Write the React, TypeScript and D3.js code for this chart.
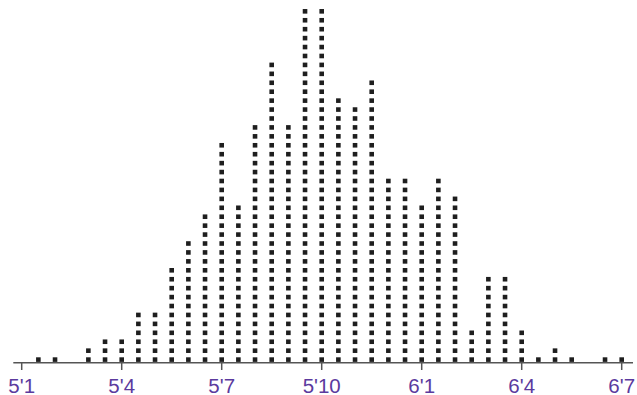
import * as d3 from 'd3';

// heights in inches (half-inch bins) and number of people at each
const heights = [
	61.5, 62, 62.5, 63, 63.5, 64, 64.5, 65, 65.5, 66, 66.5, 67, 67.5, 68, 68.5, 69,
	69.5, 70, 70.5, 71, 71.5, 72, 72.5, 73, 73.5, 74, 74.5, 75, 75.5, 76, 76.5, 77,
	77.5, 78, 78.5, 79,
];
const counts = [
	1, 1, 0, 2, 3, 3, 6, 6, 11, 14, 17, 25, 18, 27, 34, 27,
	40, 40, 30, 29, 32, 21, 21, 18, 21, 19, 4, 10, 10, 4, 1, 2,
	1, 0, 1, 1,
];
const tickValues = [61, 64, 67, 70, 73, 76, 79];
const tickLabels = ["5'1", "5'4", "5'7", "5'10", "6'1", "6'4", "6'7"];

const width = 637;
const height = 395;
const dotSize = 4.6;

const App = () => {
	const x = d3.scaleLinear().domain([61, 79]).range([21.7, 621.7]);
	// each stacked dot sits one row above the last
	const y = d3.scaleLinear().domain([0, 1]).range([359.6, 350.67]);

	const dots: { h: number; i: number }[] = [];
	heights.forEach((h, k) => {
		d3.range(counts[k]).forEach((i) => dots.push({ h, i }));
	});

	const axisY = 362.7;

	return (
		<div style={{ position: 'fixed', left: 0, top: 0 }}>
			<svg width={width} height={height} style={{ display: 'block' }}>
				<rect width={width} height={height} fill='#fff' />
				<line x1={13.3} x2={633} y1={axisY} y2={axisY} stroke='#555' strokeWidth={1.5} />
				{tickValues.map((t, k) => (
					<g key={t} transform={`translate(${x(t)},0)`}>
						<line y1={axisY} y2={370} stroke='#555' strokeWidth={1.5} />
						<text
							y={392.7}
							textAnchor='middle'
							fontFamily="'Liberation Sans', Arial, sans-serif"
							fontSize={20.5}
							fill='#5b3a9e'
						>
							{tickLabels[k]}
						</text>
					</g>
				))}
				{dots.map((d, k) => (
					<rect
						key={k}
						x={x(d.h) - dotSize / 2}
						y={y(d.i) - dotSize / 2}
						width={dotSize}
						height={dotSize}
						fill='#1e1e1e'
					/>
				))}
			</svg>
		</div>
	);
};

export default App;
